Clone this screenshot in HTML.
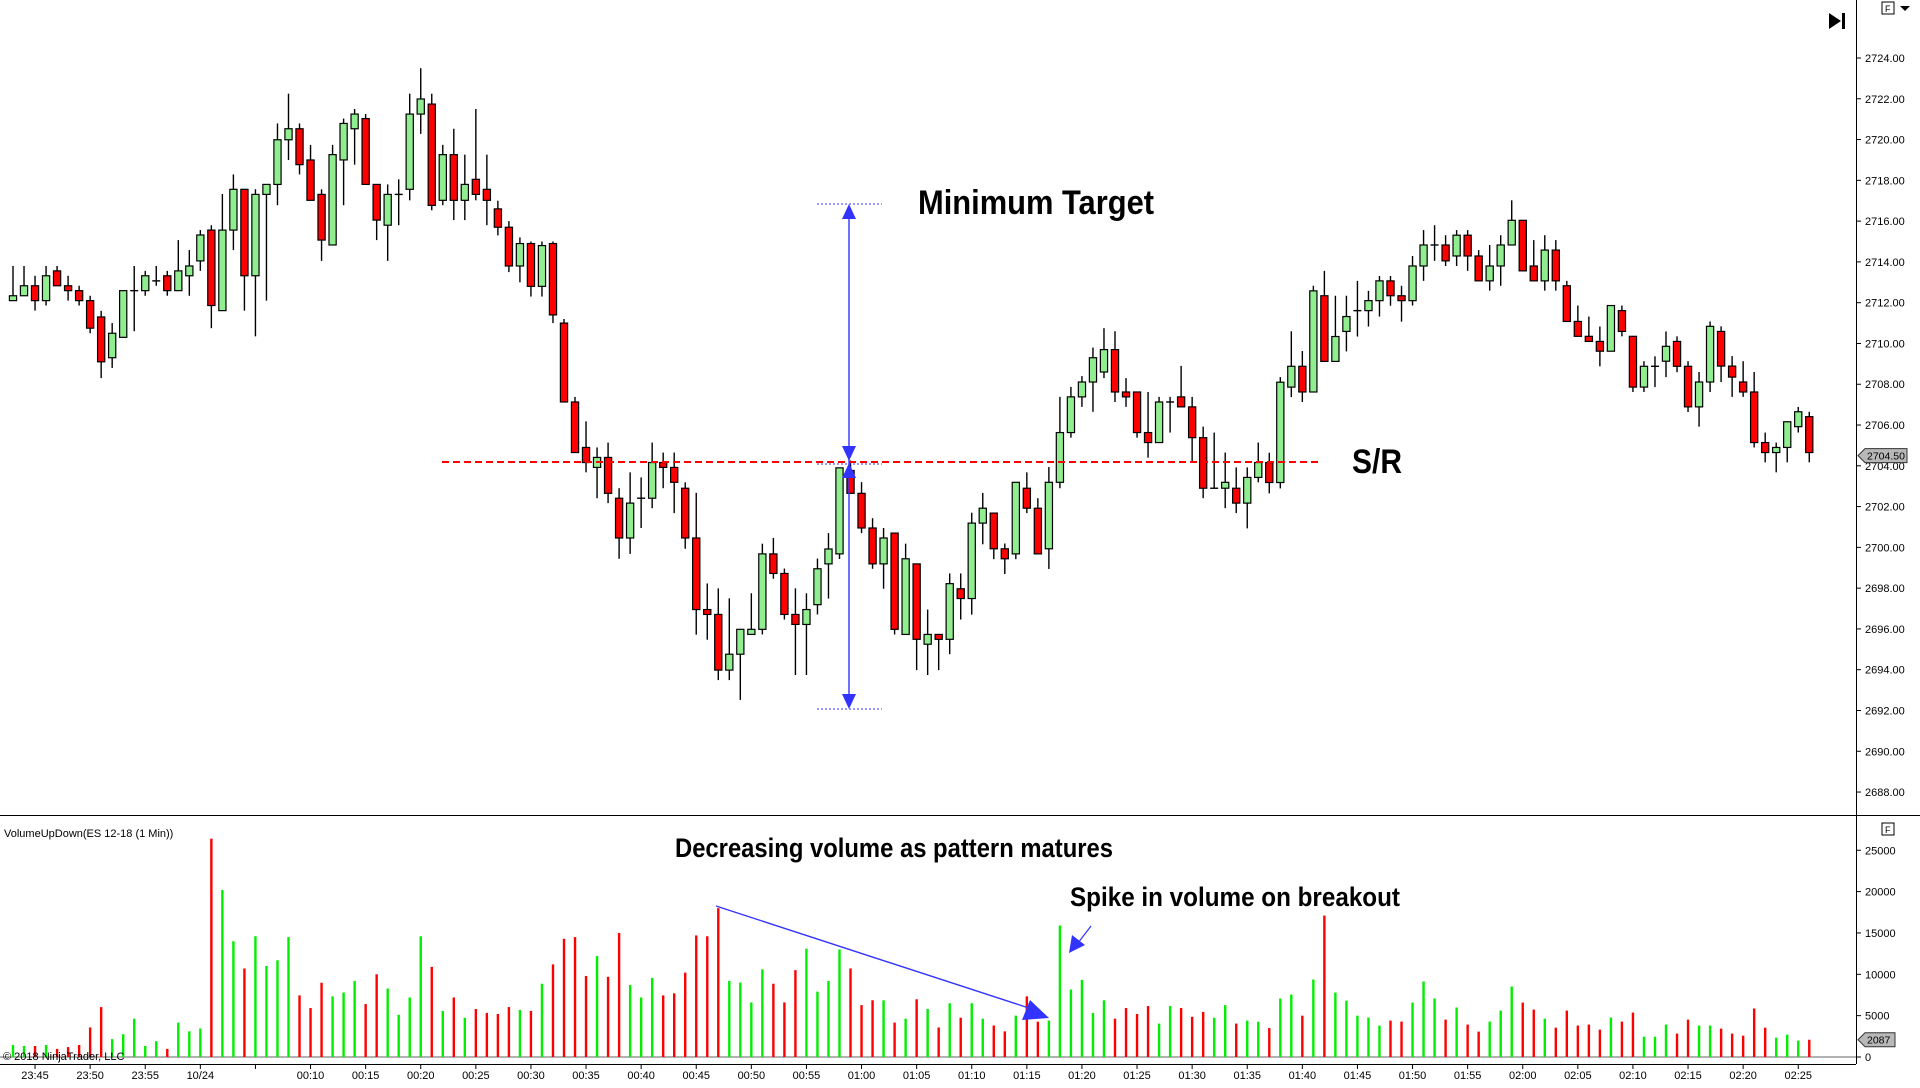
<!DOCTYPE html>
<html><head><meta charset="utf-8">
<style>
html,body{margin:0;padding:0;background:#fff;}
svg{display:block;font-family:"Liberation Sans",sans-serif;}
</style></head>
<body>
<svg id="chart" width="1920" height="1088" viewBox="0 0 1920 1088" xmlns="http://www.w3.org/2000/svg">
  <rect x="0" y="0" width="1920" height="1088" fill="#fff"/>
  <g id="grid"></g>
  <g id="candles"></g>
  <g id="volume"></g>
  <g id="annot">
    <line x1="442" y1="462" x2="1321" y2="462" stroke="#ff0000" stroke-width="2" stroke-dasharray="7,4"/>
    <line x1="817" y1="204" x2="882" y2="204" stroke="#3333ff" stroke-width="1" stroke-dasharray="2,2"/>
    <line x1="817" y1="464" x2="882" y2="464" stroke="#3333ff" stroke-width="1" stroke-dasharray="2,2"/>
    <line x1="817" y1="709" x2="882" y2="709" stroke="#3333ff" stroke-width="1" stroke-dasharray="2,2"/>
    <line x1="849" y1="206" x2="849" y2="707" stroke="#3333ff" stroke-width="1.4"/>
    <polygon points="849,204 842,219 856,219" fill="#3333ff"/>
    <polygon points="849,461 842,446 856,446" fill="#3333ff"/>
    <polygon points="849,463 842,478 856,478" fill="#3333ff"/>
    <polygon points="849,709 842,694 856,694" fill="#3333ff"/>
    <text x="918" y="214" font-size="34" font-weight="bold" textLength="236" lengthAdjust="spacingAndGlyphs" fill="#000">Minimum Target</text>
    <text x="1352" y="473" font-size="34" font-weight="bold" textLength="50" lengthAdjust="spacingAndGlyphs" fill="#000">S/R</text>
    <text x="675" y="857" font-size="27" font-weight="bold" textLength="438" lengthAdjust="spacingAndGlyphs" fill="#000">Decreasing volume as pattern matures</text>
    <text x="1070" y="906" font-size="27" font-weight="bold" textLength="330" lengthAdjust="spacingAndGlyphs" fill="#000">Spike in volume on breakout</text>
    <line x1="716" y1="906" x2="1035" y2="1010" stroke="#3333ff" stroke-width="1.4"/>
    <polygon points="1049,1018 1030,1000 1022,1020" fill="#3333ff"/>
    <line x1="1091" y1="926" x2="1078" y2="943" stroke="#3333ff" stroke-width="1.2"/>
    <polygon points="1069,953 1072,935 1085,945" fill="#3333ff"/>
  </g>
  <g>
    <polygon points="1829,13 1829,29 1841,21" fill="#000"/>
    <rect x="1842" y="13" width="3" height="16" fill="#000"/>
    <rect x="1882" y="2" width="12" height="12" fill="#fff" stroke="#000" stroke-width="1"/>
    <text x="1885" y="12" font-size="9" fill="#000">F</text>
    <polygon points="1900,6 1910,6 1905,11" fill="#000"/>
    <rect x="1882" y="823" width="12" height="12" fill="#fff" stroke="#000" stroke-width="1"/>
    <text x="1885" y="833" font-size="9" fill="#000">F</text>
  </g>
  <text x="4" y="837" font-size="11" fill="#000">VolumeUpDown(ES 12-18 (1 Min))</text>
  <text x="3" y="1060" font-size="11" fill="#000">© 2018 NinjaTrader, LLC</text>
</svg>
<script>
const opens=[2712.10,2712.34,2712.83,2712.10,2713.56,2712.83,2712.59,2712.10,2711.30,2709.30,2710.30,2712.59,2712.59,2713.07,2713.32,2712.59,2713.32,2714.05,2715.56,2711.61,2715.56,2717.56,2713.32,2717.31,2717.80,2719.99,2720.53,2719.00,2717.31,2714.83,2719.00,2720.53,2721.03,2717.80,2715.80,2717.31,2717.56,2721.25,2721.74,2717.02,2719.26,2717.02,2718.05,2717.56,2716.60,2715.70,2713.80,2714.90,2712.80,2714.90,2711.00,2707.13,2704.90,2703.92,2704.41,2702.41,2700.46,2702.41,2702.41,2704.16,2703.92,2702.90,2700.46,2696.95,2696.71,2693.98,2694.76,2695.73,2695.98,2699.68,2698.72,2696.71,2696.22,2697.19,2699.19,2699.68,2703.77,2702.65,2700.95,2699.19,2700.70,2695.73,2699.19,2695.25,2695.73,2695.49,2697.97,2697.49,2701.19,2701.68,2699.93,2699.68,2702.90,2701.92,2699.93,2703.19,2705.63,2707.38,2708.11,2708.60,2709.70,2707.62,2707.62,2705.63,2705.14,2707.13,2707.38,2706.89,2705.38,2702.90,2702.90,2702.90,2702.17,2703.43,2704.16,2703.18,2707.86,2708.88,2707.62,2712.34,2709.12,2710.59,2711.61,2711.61,2712.10,2713.07,2712.34,2712.10,2713.80,2714.83,2714.83,2714.29,2715.31,2714.29,2713.07,2713.80,2714.83,2716.04,2713.80,2713.07,2714.58,2712.83,2711.08,2710.35,2710.10,2709.62,2711.61,2710.35,2707.86,2708.88,2709.13,2710.10,2708.88,2706.89,2708.11,2710.59,2708.89,2708.11,2707.62,2705.14,2704.65,2704.90,2705.92,2706.41];
const highs=[2713.80,2713.80,2713.32,2713.80,2713.80,2713.32,2712.83,2712.34,2711.60,2711.00,2712.59,2713.80,2713.56,2713.80,2713.56,2715.07,2714.58,2715.56,2715.80,2717.33,2718.29,2717.56,2717.56,2717.80,2720.79,2722.25,2720.79,2719.74,2717.56,2719.74,2721.03,2721.50,2721.25,2717.80,2717.80,2718.05,2722.25,2723.50,2722.25,2719.74,2720.53,2719.26,2721.50,2719.26,2717.00,2716.00,2715.20,2715.00,2715.00,2715.00,2711.20,2707.38,2706.18,2704.90,2705.14,2702.90,2703.68,2703.43,2705.14,2704.65,2704.65,2703.19,2702.67,2698.23,2697.99,2697.50,2695.98,2697.75,2700.18,2700.46,2698.96,2697.99,2697.75,2699.45,2700.70,2703.90,2704.26,2703.20,2701.43,2700.95,2700.70,2700.18,2699.19,2696.95,2695.73,2698.72,2698.72,2701.70,2702.67,2701.68,2700.19,2703.19,2703.68,2702.41,2703.94,2707.38,2707.87,2708.40,2709.80,2710.75,2710.60,2708.30,2707.62,2707.62,2707.38,2707.38,2708.90,2707.38,2705.92,2705.63,2704.65,2703.92,2703.92,2705.14,2704.64,2708.35,2710.60,2709.63,2712.83,2713.56,2712.34,2712.34,2713.07,2712.58,2713.31,2713.31,2712.83,2714.29,2715.56,2715.80,2715.31,2715.56,2715.56,2714.58,2714.83,2715.31,2717.02,2716.04,2715.07,2715.31,2715.07,2713.07,2711.86,2711.32,2710.83,2711.86,2711.86,2710.35,2709.13,2709.37,2710.59,2710.35,2709.13,2708.60,2711.08,2710.84,2709.38,2709.13,2708.60,2705.63,2705.14,2706.16,2706.89,2706.65];
const lows=[2712.10,2712.34,2711.61,2711.86,2712.83,2712.10,2711.86,2710.50,2708.30,2708.80,2710.30,2710.60,2712.34,2712.83,2712.34,2712.59,2712.34,2713.56,2710.75,2711.61,2714.58,2711.61,2710.35,2712.10,2716.78,2719.00,2718.29,2717.02,2714.05,2714.83,2716.78,2718.77,2717.80,2715.07,2714.05,2715.80,2717.02,2720.28,2716.53,2716.78,2716.05,2716.05,2717.02,2715.80,2715.30,2713.50,2713.00,2712.30,2712.30,2711.00,2707.10,2704.65,2703.68,2702.41,2702.17,2699.44,2699.68,2700.95,2701.92,2702.90,2701.68,2699.93,2695.72,2695.47,2693.49,2693.49,2692.52,2695.73,2695.73,2698.46,2696.46,2693.74,2693.74,2696.71,2697.49,2699.43,2702.65,2700.70,2698.95,2697.97,2695.73,2695.73,2693.98,2693.74,2693.98,2694.76,2696.46,2696.70,2700.15,2699.42,2698.69,2699.42,2701.68,2699.68,2698.94,2702.90,2705.38,2706.89,2706.65,2708.30,2707.13,2706.89,2705.38,2704.40,2705.14,2705.63,2706.89,2704.16,2702.41,2702.90,2701.92,2701.68,2700.93,2703.19,2702.65,2702.89,2707.37,2707.13,2707.62,2709.12,2709.12,2709.61,2710.34,2710.83,2711.32,2711.85,2711.07,2711.86,2713.07,2714.05,2713.80,2713.80,2713.56,2713.07,2712.59,2712.83,2714.83,2713.56,2713.07,2712.59,2712.59,2711.08,2710.35,2710.10,2708.88,2709.62,2710.35,2707.62,2707.62,2707.86,2708.35,2708.59,2706.64,2705.92,2707.62,2708.11,2707.38,2707.38,2704.90,2704.17,2703.68,2704.17,2705.63,2704.17];
const closes=[2712.34,2712.83,2712.10,2713.32,2712.83,2712.59,2712.10,2710.75,2709.10,2710.50,2712.59,2712.59,2713.32,2713.07,2712.59,2713.56,2713.80,2715.32,2711.86,2715.56,2717.56,2713.32,2717.31,2717.80,2719.99,2720.53,2718.77,2717.02,2715.07,2719.26,2720.79,2721.25,2717.80,2716.05,2717.31,2717.31,2721.25,2721.99,2716.77,2719.26,2717.02,2717.80,2717.31,2717.02,2715.70,2713.80,2714.90,2712.80,2714.80,2711.40,2707.13,2704.65,2704.16,2704.41,2702.65,2700.46,2702.17,2702.41,2704.16,2703.92,2703.19,2700.46,2696.95,2696.71,2693.98,2694.76,2695.98,2695.98,2699.68,2698.72,2696.71,2696.22,2696.95,2698.95,2699.92,2703.90,2702.65,2700.95,2699.19,2700.46,2695.98,2699.44,2695.49,2695.73,2695.49,2698.22,2697.49,2701.19,2701.92,2699.93,2699.44,2703.19,2701.92,2699.68,2703.19,2705.63,2707.38,2708.11,2709.30,2709.70,2707.62,2707.38,2705.63,2705.14,2707.13,2707.13,2706.89,2705.38,2702.90,2702.90,2703.19,2702.17,2703.43,2704.16,2703.18,2708.10,2708.88,2707.62,2712.58,2709.12,2710.34,2711.32,2711.61,2712.10,2713.07,2712.34,2712.10,2713.80,2714.83,2714.83,2714.05,2715.31,2714.29,2713.07,2713.80,2714.83,2716.04,2713.56,2713.07,2714.58,2713.07,2711.08,2710.35,2710.10,2709.62,2711.86,2710.59,2707.86,2708.88,2708.88,2709.86,2708.88,2706.89,2708.11,2710.84,2708.89,2708.35,2707.62,2705.14,2704.65,2704.90,2706.16,2706.65,2704.65];
const volumes=[1450,1330,1330,1450,980,1200,1450,3570,6040,2160,2750,4630,1330,1920,980,4160,3100,3450,26400,20200,14000,10700,14600,11000,11700,14500,7450,5920,8980,7330,7800,9200,6400,10000,8270,5100,7200,14600,10900,5570,7200,4750,5800,5330,5200,6040,5700,5570,8860,11200,14300,14500,9800,12200,9700,15000,8700,7200,9570,7450,7700,10200,14700,14600,18000,9200,9000,6600,10600,8860,6600,10500,13100,7900,9200,13000,10700,6270,6860,6860,4160,4630,6980,5800,3570,6500,4750,6500,4630,3800,3100,5000,7330,4270,4400,15900,8160,9330,5330,6860,4630,5920,5200,6160,4040,6160,5920,4860,5450,4750,6270,4040,4400,4270,3500,7070,7550,5000,9370,17100,7800,6800,5000,4770,3800,4400,4280,6580,9130,7070,4520,5980,3920,3070,4280,5610,8520,6580,5730,4640,3550,5610,3800,3920,3310,4770,4280,5370,2460,2460,3920,2830,4520,3800,3800,3430,2830,2580,5860,3550,2340,2700,1980,2087];
const priceTicks=[2688,2690,2692,2694,2696,2698,2700,2702,2704,2706,2708,2710,2712,2714,2716,2718,2720,2722,2724];
const volumeTicks=[0,5000,10000,15000,20000,25000];
const startMinute=23*60+43;
const lastPrice=2704.50;
const lastVolume=2087;

const NS="http://www.w3.org/2000/svg";
const AXIS_X=1856;
const VBASE=1057;
function xPos(i){return 13+11.02*i;}
function yPrice(p){return 58+(2724-p)*20.39;}
function yVol(v){return VBASE-v*0.00827;}
function mk(tag,attrs,parent){const e=document.createElementNS(NS,tag);for(const k in attrs)e.setAttribute(k,attrs[k]);parent.appendChild(e);return e;}
function timeLabel(i){let m=(startMinute+i)%(1440);const h=Math.floor(m/60),mm=m%60;return (h<10?"0":"")+h+":"+(mm<10?"0":"")+mm;}

const grid=document.getElementById('grid');
let e=mk('line',{x1:0,y1:815.5,x2:1920,y2:815.5,stroke:'#000','stroke-width':1},grid);


e=mk('line',{x1:AXIS_X+0.5,y1:0,x2:AXIS_X+0.5,y2:1064,stroke:'#000','stroke-width':1},grid);


e=mk('line',{x1:0,y1:1064.5,x2:AXIS_X,y2:1064.5,stroke:'#000','stroke-width':1},grid);


e=mk('line',{x1:0,y1:VBASE,x2:AXIS_X,y2:VBASE,stroke:'#999','stroke-width':1.5},grid);



priceTicks.forEach(p=>{
  const y=yPrice(p);
  const t=mk('line',{x1:AXIS_X,y1:y,x2:AXIS_X+5,y2:y,stroke:'#000','stroke-width':1},grid);
  
  
  const l=mk('text',{x:AXIS_X+9,y:y+4,'font-size':11,fill:'#000'},grid);
  l.textContent=p.toFixed(2);
  
  
});
volumeTicks.forEach(v=>{
  const y=yVol(v);
  const t=mk('line',{x1:AXIS_X,y1:y,x2:AXIS_X+5,y2:y,stroke:'#000','stroke-width':1},grid);
  
  
  const l=mk('text',{x:AXIS_X+9,y:y+4,'font-size':11,fill:'#000'},grid);
  l.textContent=String(v);
  
  
});
for(let i=0;i<closes.length;i++){
  const m=(startMinute+i)%1440;
  if(m%5!==0)continue;
  const x=xPos(i);
  const t=mk('line',{x1:x,y1:1064,x2:x,y2:1069,stroke:'#000','stroke-width':1},grid);
  
  
  if(m===5)continue;
  const l=mk('text',{x:x,y:1079,'font-size':11,fill:'#000','text-anchor':'middle'},grid);
  l.textContent=(m===0)?"10/24":timeLabel(i);
  
  
}

const cg=document.getElementById('candles');
for(let i=0;i<closes.length;i++){
  const x=xPos(i),o=opens[i],c=closes[i];
  const up=c>=o;
  const w=mk('line',{x1:x,y1:yPrice(highs[i]),x2:x,y2:yPrice(lows[i]),stroke:'#000','stroke-width':1.4},cg);
  
  
  const top=yPrice(Math.max(o,c)),bot=yPrice(Math.min(o,c));
  if(bot-top<1.5){
    const d=mk('line',{x1:x-4,y1:top,x2:x+4,y2:top,stroke:'#000','stroke-width':1.4},cg);
    
    
  } else {
    const b=mk('rect',{x:x-3.6,y:top,width:7.2,height:bot-top,fill:up?'#90ee90':'#ff0000',stroke:'#000','stroke-width':1.2},cg);
    
    
  }
}
const vg=document.getElementById('volume');
for(let i=0;i<volumes.length;i++){
  const x=xPos(i),y=yVol(volumes[i]);
  const up=closes[i]>=opens[i];
  const b=mk('rect',{x:x-1.2,y:y,width:2.4,height:VBASE-y,fill:up?'#00ee00':'#ff0000'},vg);
  
  
}
function tag(y,txt,name,w){
  const g=mk('g',{},grid);
  
  
  mk('polygon',{points:`${AXIS_X+2},${y} ${AXIS_X+9},${y-7} ${AXIS_X+9+w},${y-7} ${AXIS_X+9+w},${y+7} ${AXIS_X+9},${y+7}`,fill:'#b8b8b8',stroke:'#333','stroke-width':1},g);
  const t=mk('text',{x:AXIS_X+11,y:y+4,'font-size':10.5,fill:'#000'},g);
  t.textContent=txt;
}
tag(yPrice(lastPrice),lastPrice.toFixed(2),'last-price-tag',42);
tag(yVol(lastVolume),String(lastVolume),'last-volume-tag',30);
</script>
</body></html>
